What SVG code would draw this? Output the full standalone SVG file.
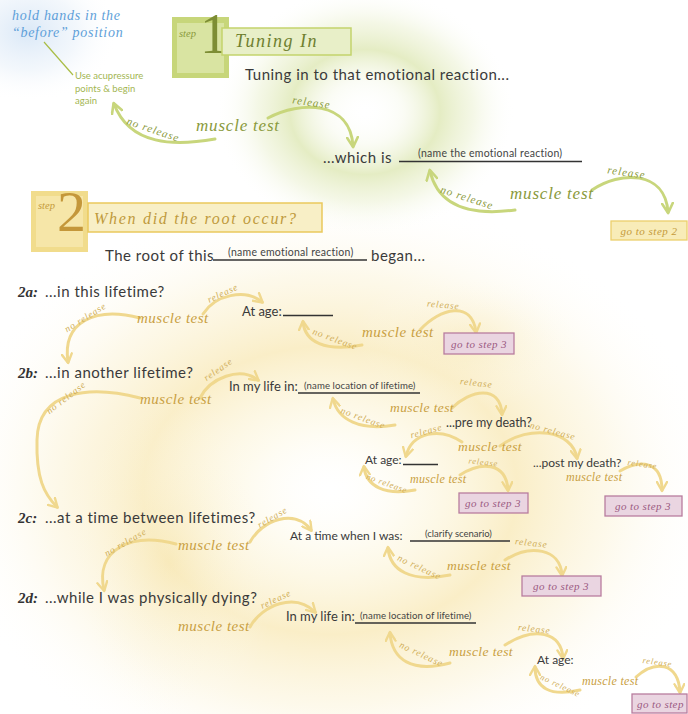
<svg xmlns="http://www.w3.org/2000/svg" width="688" height="714" viewBox="0 0 688 714">
<defs>
<radialGradient id="gBlue" cx="0.5" cy="0.5" r="0.5"><stop offset="0" stop-color="#c2d9f2" stop-opacity="0.6"/><stop offset="0.55" stop-color="#d6e5f5" stop-opacity="0.3"/><stop offset="1" stop-color="#ffffff" stop-opacity="0"/></radialGradient>
<radialGradient id="gGreen" cx="0.5" cy="0.5" r="0.5"><stop offset="0" stop-color="#ffffff" stop-opacity="0"/><stop offset="0.25" stop-color="#eef3d8" stop-opacity="0.25"/><stop offset="0.5" stop-color="#d3e09c" stop-opacity="0.6"/><stop offset="0.72" stop-color="#e0e9b8" stop-opacity="0.35"/><stop offset="1" stop-color="#ffffff" stop-opacity="0"/></radialGradient>
<radialGradient id="gYel" cx="0.5" cy="0.5" r="0.5"><stop offset="0" stop-color="#fffdf2" stop-opacity="0"/><stop offset="0.22" stop-color="#fbf1c8" stop-opacity="0.3"/><stop offset="0.48" stop-color="#f6e09a" stop-opacity="0.55"/><stop offset="0.72" stop-color="#f9ebbb" stop-opacity="0.3"/><stop offset="1" stop-color="#ffffff" stop-opacity="0"/></radialGradient>
<radialGradient id="gYel2" cx="0.5" cy="0.5" r="0.5"><stop offset="0" stop-color="#f5e2a4" stop-opacity="0.35"/><stop offset="1" stop-color="#ffffff" stop-opacity="0"/></radialGradient>
<marker id="mg" viewBox="0 0 12 12" refX="9" refY="6" markerWidth="13" markerHeight="13" markerUnits="userSpaceOnUse" orient="auto"><path d="M1,1 L10,6 L1,11" fill="none" stroke="#c8d67c" stroke-width="2.4" stroke-linecap="round" stroke-linejoin="round"/></marker>
<marker id="my" viewBox="0 0 12 12" refX="9" refY="6" markerWidth="12" markerHeight="12" markerUnits="userSpaceOnUse" orient="auto"><path d="M1,1 L10,6 L1,11" fill="none" stroke="#f0d88e" stroke-width="2.4" stroke-linecap="round" stroke-linejoin="round"/></marker>
<style>
.sans{font-family:Lato,"Open Sans",sans-serif;fill:#3a3a3a}
.m{font-size:15px;letter-spacing:.5px}
.q{font-size:15px;letter-spacing:.5px}
.lab{font-size:10.5px;letter-spacing:.25px;fill:#444}
.cal{font-family:"Liberation Serif",serif;font-style:italic}
.num{font-family:"Liberation Serif",serif;font-style:italic;font-weight:bold;font-size:15px;fill:#333}
.mtg{fill:#8a9a3c;font-size:17px;letter-spacing:.8px}
.mty{fill:#c9a042;font-size:15px;letter-spacing:.5px}
.m2{font-size:13.5px;letter-spacing:.4px}
.m3{font-size:12px;letter-spacing:.3px}
.rg{fill:#8a9a3c;font-size:11px;letter-spacing:1px}
.ry{fill:#d0ae58;font-size:9.5px;letter-spacing:.8px}
.cg{fill:none;stroke:#c8d67c;stroke-width:3;stroke-linecap:round;marker-end:url(#mg)}
.cy{fill:none;stroke:#f0d88e;stroke-width:3;stroke-linecap:round;marker-end:url(#my)}
.ul{stroke:#333;stroke-width:1.4}
.b3 rect{fill:#ead5e1;stroke:#b87d9e;stroke-width:1.3}
.b3 text{font-family:"Liberation Serif",serif;font-style:italic;font-size:11px;fill:#9b5a82;letter-spacing:.4px}
</style>
</defs>
<rect width="688" height="714" fill="#ffffff"/>
<g id="background">
<ellipse cx="28" cy="32" rx="90" ry="70" fill="url(#gBlue)"/>
<ellipse cx="330" cy="490" rx="390" ry="300" fill="url(#gYel)"/>
<ellipse cx="170" cy="560" rx="110" ry="170" fill="url(#gYel2)"/>
<ellipse cx="470" cy="340" rx="120" ry="70" fill="url(#gYel2)"/>
<ellipse cx="365" cy="112" rx="150" ry="125" fill="url(#gGreen)"/>
</g>

<g id="connectors">
<path class="cg" d="M215,139 C175,146 130,146 114,104"/>
<path class="cg" d="M268,118 C300,101 350,100 353,146"/>
<path class="cg" d="M515,210 C470,216 438,206 430,171"/>
<path class="cg" d="M592,190 C620,171 665,170 668,212"/>

<path class="cy" d="M140,318 C95,306 62,322 68,362"/>
<path class="cy" d="M203,314 C215,295 245,288 262,302"/>
<path class="cy" d="M362,345 C325,352 305,342 303,322"/>
<path class="cy" d="M420,330 C440,308 472,300 476,332"/>

<path class="cy" d="M140,398 C90,385 38,390 37,440 C36,478 44,494 57,507"/>
<path class="cy" d="M200,398 C210,378 240,366 258,380"/>
<path class="cy" d="M395,425 C360,431 338,420 333,399"/>
<path class="cy" d="M452,408 C470,390 500,384 502,414"/>
<path class="cy" d="M462,442 C440,427 412,432 406,456"/>
<path class="cy" d="M500,446 C530,424 572,430 577,458"/>
<path class="cy" d="M415,490 C385,496 366,486 364,467"/>
<path class="cy" d="M460,475 C480,462 506,461 508,490"/>
<path class="cy" d="M620,471 C640,459 662,461 662,490"/>

<path class="cy" d="M176,544 C130,532 95,550 104,590"/>
<path class="cy" d="M250,542 C262,520 295,508 311,530"/>
<path class="cy" d="M450,575 C410,583 390,570 388,548"/>
<path class="cy" d="M505,560 C530,544 560,548 562,575"/>

<path class="cy" d="M250,627 C262,605 295,592 315,612"/>
<path class="cy" d="M450,663 C412,673 392,660 390,633"/>
<path class="cy" d="M505,645 C535,626 561,632 563,658"/>
<path class="cy" d="M580,690 C550,697 535,688 535,667"/>
<path class="cy" d="M636,677 C655,660 678,662 680,692"/>

<line x1="44" y1="42" x2="73" y2="75" stroke="#a9bd45" stroke-width="1.2"/>
</g>

<g id="hint">
<text class="cal" font-size="14" fill="#5e9fd9" letter-spacing=".7"><tspan x="12" y="20">hold hands in the</tspan><tspan x="12" y="37">“before” position</tspan></text>
</g>
<g id="acupressure">
<text class="sans" font-size="9.5" style="fill:#a3b652"><tspan x="75" y="79">Use acupressure</tspan><tspan x="75" y="92">points &amp; begin</tspan><tspan x="75" y="104">again</tspan></text>
</g>

<g id="step1">
<rect x="172" y="17" width="57" height="61" fill="#c7d67a"/>
<rect x="177" y="23" width="47" height="50" fill="#d9e4a2"/>
<text x="179" y="37" class="cal" font-size="10.5" fill="#8a9a3c">step</text>
<text x="200" y="53" font-family="Liberation Serif,serif" font-size="56" fill="#7d8d34">1</text>
<rect x="222" y="28" width="129" height="27" fill="#e8efc8" stroke="#c3d36c" stroke-width="1.5"/>
<text x="235" y="47" class="cal" font-size="18" fill="#6f8030" letter-spacing="1.5">Tuning In</text>
</g>
<g id="tuning"><text x="245" y="80" class="sans m">Tuning in to that emotional reaction...</text></g>
<g id="mt1">
<text x="196" y="131" class="cal mtg">muscle test</text>
<text class="cal rg" transform="translate(152,133) rotate(19)" text-anchor="middle">no release</text>
<text class="cal rg" transform="translate(311,106) rotate(8)" text-anchor="middle">release</text>
</g>
<g id="whichis">
<text x="323" y="163" class="sans m">...which is</text>
<line class="ul" x1="399" y1="161.5" x2="582" y2="161.5"/>
<text x="418" y="157" class="sans lab">(name the emotional reaction)</text>
</g>
<g id="mt2">
<text x="510" y="199" class="cal mtg">muscle test</text>
<text class="cal rg" transform="translate(466,201) rotate(18)" text-anchor="middle">no release</text>
<text class="cal rg" transform="translate(626,176) rotate(8)" text-anchor="middle">release</text>
</g>
<g id="goto2">
<rect x="611" y="221" width="76" height="19" fill="#f8ecb8" stroke="#eccf6c" stroke-width="1.3"/>
<text x="649" y="235" text-anchor="middle" class="cal" font-size="11" fill="#c49a3a" letter-spacing=".5">go to step 2</text>
</g>

<g id="step2">
<rect x="31" y="191" width="57" height="61" fill="#f1dc8c"/>
<rect x="36" y="196" width="47" height="51" fill="#f6e6a8"/>
<text x="38" y="209" class="cal" font-size="10.5" fill="#c49a3a">step</text>
<text x="57" y="231" font-family="Liberation Serif,serif" font-size="58" fill="#c4973a">2</text>
<rect x="88" y="203" width="234" height="29" fill="#f8efc6" stroke="#eac95c" stroke-width="1.5"/>
<text x="94" y="224" class="cal" font-size="16" fill="#bf9a3c" letter-spacing="1.7">When did the root occur?</text>
</g>
<g id="root">
<text x="105" y="261" class="sans m">The root of this</text>
<line class="ul" x1="213" y1="260" x2="367" y2="260"/>
<text x="228" y="256" class="sans lab">(name emotional reaction)</text>
<text x="371" y="261" class="sans m">began...</text>
</g>

<g id="q2a"><text x="18" y="297" class="num">2a:</text><text x="45" y="297" class="sans q">...in this lifetime?</text></g>
<g id="mt2a">
<text x="137" y="323" class="cal mty">muscle test</text>
<text class="cal ry" transform="translate(87,320) rotate(-32)" text-anchor="middle">no release</text>
<text class="cal ry" transform="translate(224,296) rotate(-25)" text-anchor="middle">release</text>
</g>
<g id="age2a"><text x="242" y="316" class="sans" font-size="13">At age:</text><line class="ul" x1="283" y1="315.5" x2="333" y2="315.5"/></g>
<g id="mt2a2">
<text x="362" y="337" class="cal mty">muscle test</text>
<text class="cal ry" transform="translate(334,342) rotate(20)" text-anchor="middle">no release</text>
<text class="cal ry" transform="translate(443,308) rotate(5)" text-anchor="middle">release</text>
</g>
<g id="goto3a" class="b3"><rect x="444" y="333" width="70" height="21"/><text x="479" y="348" text-anchor="middle">go to step 3</text></g>

<g id="q2b"><text x="18" y="378" class="num">2b:</text><text x="45" y="378" class="sans q">...in another lifetime?</text></g>
<g id="mt2b">
<text x="140" y="404" class="cal mty">muscle test</text>
<text class="cal ry" transform="translate(68,400) rotate(-38)" text-anchor="middle">no release</text>
<text class="cal ry" transform="translate(220,372) rotate(-35)" text-anchor="middle">release</text>
</g>
<g id="life2b">
<text x="229" y="391" class="sans" font-size="13">In my life in:</text>
<line class="ul" x1="298" y1="393" x2="420" y2="393"/>
<text x="304" y="389" class="sans lab" style="font-size:9.6px;letter-spacing:.1px">(name location of lifetime)</text>
</g>
<g id="mt2b2">
<text x="390" y="412" class="cal mty m2">muscle test</text>
<text class="cal ry" transform="translate(362,421) rotate(20)" text-anchor="middle">no release</text>
<text class="cal ry" transform="translate(476,386) rotate(6)" text-anchor="middle">release</text>
</g>
<g id="pre"><text x="446" y="427" class="sans" font-size="12.5">...pre my death?</text></g>
<g id="mt2b3">
<text x="458" y="451" class="cal mty m2">muscle test</text>
<text class="cal ry" transform="translate(427,434) rotate(-15)" text-anchor="middle">release</text>
<text class="cal ry" transform="translate(552,434) rotate(15)" text-anchor="middle">no release</text>
</g>
<g id="age2b"><text x="365" y="464" class="sans" font-size="12">At age:</text><line class="ul" x1="403" y1="464.5" x2="438" y2="464.5"/></g>
<g id="post"><text x="533" y="467" class="sans" font-size="12">...post my death?</text></g>
<g id="mt2b4">
<text x="410" y="483" class="cal mty m3">muscle test</text>
<text class="cal ry" style="font-size:8.5px" transform="translate(386,486) rotate(20)" text-anchor="middle">no release</text>
<text class="cal ry" style="font-size:8.5px" transform="translate(483,465) rotate(6)" text-anchor="middle">release</text>
</g>
<g id="goto3b" class="b3"><rect x="459" y="493" width="69" height="20"/><text x="493" y="507" text-anchor="middle">go to step 3</text></g>
<g id="mt2b5">
<text x="566" y="481" class="cal mty m3">muscle test</text>
<text class="cal ry" style="font-size:8.5px" transform="translate(642,467) rotate(8)" text-anchor="middle">release</text>
</g>
<g id="goto3c" class="b3"><rect x="605" y="496" width="77" height="20"/><text x="643" y="510" text-anchor="middle">go to step 3</text></g>

<g id="q2c"><text x="18" y="523" class="num">2c:</text><text x="45" y="523" class="sans q">...at a time between lifetimes?</text></g>
<g id="mt2c">
<text x="178" y="550" class="cal mty">muscle test</text>
<text class="cal ry" transform="translate(127,545) rotate(-30)" text-anchor="middle">no release</text>
<text class="cal ry" transform="translate(274,520) rotate(-30)" text-anchor="middle">release</text>
</g>
<g id="time2c">
<text x="290" y="540" class="sans" font-size="12">At a time when I was:</text>
<line class="ul" x1="410" y1="541" x2="510" y2="541"/>
<text x="425" y="537" class="sans lab" style="font-size:9.5px;letter-spacing:0">(clarify scenario)</text>
</g>
<g id="mt2c2">
<text x="447" y="570" class="cal mty m2">muscle test</text>
<text class="cal ry" transform="translate(418,570) rotate(25)" text-anchor="middle">no release</text>
<text class="cal ry" transform="translate(531,546) rotate(6)" text-anchor="middle">release</text>
</g>
<g id="goto3d" class="b3"><rect x="522" y="576" width="79" height="20"/><text x="561" y="590" text-anchor="middle">go to step 3</text></g>

<g id="q2d"><text x="18" y="603" class="num">2d:</text><text x="45" y="603" class="sans q">...while I was physically dying?</text></g>
<g id="mt2d">
<text x="178" y="631" class="cal mty">muscle test</text>
<text class="cal ry" transform="translate(277,602) rotate(-25)" text-anchor="middle">release</text>
</g>
<g id="life2d">
<text x="286" y="621" class="sans" font-size="13">In my life in:</text>
<line class="ul" x1="355" y1="623" x2="476" y2="623"/>
<text x="360" y="619" class="sans lab" style="font-size:9.6px;letter-spacing:.1px">(name location of lifetime)</text>
</g>
<g id="mt2d2">
<text x="449" y="656" class="cal mty m2">muscle test</text>
<text class="cal ry" transform="translate(420,657) rotate(25)" text-anchor="middle">no release</text>
<text class="cal ry" transform="translate(534,632) rotate(6)" text-anchor="middle">release</text>
</g>
<g id="age2d"><text x="537" y="664" class="sans" font-size="12">At age:</text></g>
<g id="mt2d3">
<text x="582" y="685" class="cal mty m3">muscle test</text>
<text class="cal ry" style="font-size:8.5px" transform="translate(559,688) rotate(25)" text-anchor="middle">no release</text>
<text class="cal ry" style="font-size:8.5px" transform="translate(657,665) rotate(8)" text-anchor="middle">release</text>
</g>
<g id="goto3e" class="b3"><rect x="632" y="694" width="55" height="19"/><text x="637" y="708">go to step</text></g>
</svg>
